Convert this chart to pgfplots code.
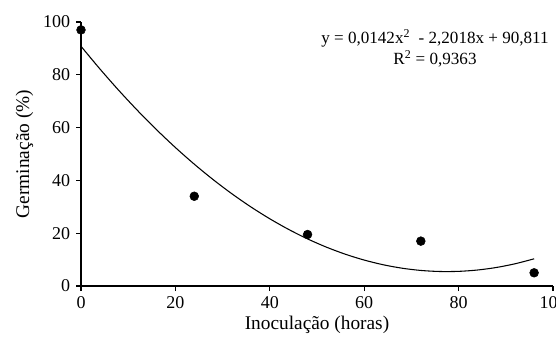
\documentclass[border=0pt]{standalone}
\usepackage{pgfplots}
\pgfplotsset{compat=1.18}
\usepackage{fontspec}
\setmainfont{Liberation Serif}
\begin{document}
\fontsize{12.5}{15}\selectfont
\begin{tikzpicture}
\begin{axis}[name=ax,
  scale only axis, width=354pt, height=198pt,
  xmin=0, xmax=100, ymin=0, ymax=100,
  axis lines=left, axis line style={-, line width=0.9pt},
  xtick={0,20,40,60,80,100}, ytick={0,20,40,60,80,100},
  tick align=outside, major tick length=3.75pt,
  tick style={black, line width=0.8pt},
  /pgf/number format/assume math mode=true,
  ticklabel style={font=\fontsize{13.5}{16}\selectfont},
  label style={font=\fontsize{14.5}{17}\selectfont},
  xlabel={Inoculação (horas)}, ylabel={Germinação (\%)},
  xlabel style={yshift=3pt}, ylabel style={yshift=-1pt},
  clip=false,
]
\addplot[black, line width=0.8pt, smooth] coordinates {
(0,90.811) (4,82.231) (8,74.105) (12,66.434) (16,59.217) (20,52.455)
(24,46.147) (28,40.293) (32,34.894) (36,29.949) (40,25.459) (44,21.423)
(48,17.841) (52,14.714) (56,12.042) (60,9.823) (64,8.059) (68,6.749)
(72,5.894) (76,5.494) (80,5.547) (84,6.055) (88,7.017) (92,8.434) (96,10.305)};
\addplot[only marks, mark=*, mark size=3.3pt, black] coordinates {
(0,97) (24,34) (48,19.5) (72,17) (96,5)};
\node[align=center, font=\fontsize{12.8}{15.5}\selectfont, inner sep=0pt] at (axis cs:75,90)
  {y = 0,0142x\textsuperscript{2}\ \ - 2,2018x + 90,811\\R\textsuperscript{2} = 0,9363};
\end{axis}
\pgfresetboundingbox
\useasboundingbox ([shift={(-60.75pt,-42.75pt)}]ax.south west) rectangle ([shift={(2.25pt,16.5pt)}]ax.north east);
\end{tikzpicture}
\end{document}
